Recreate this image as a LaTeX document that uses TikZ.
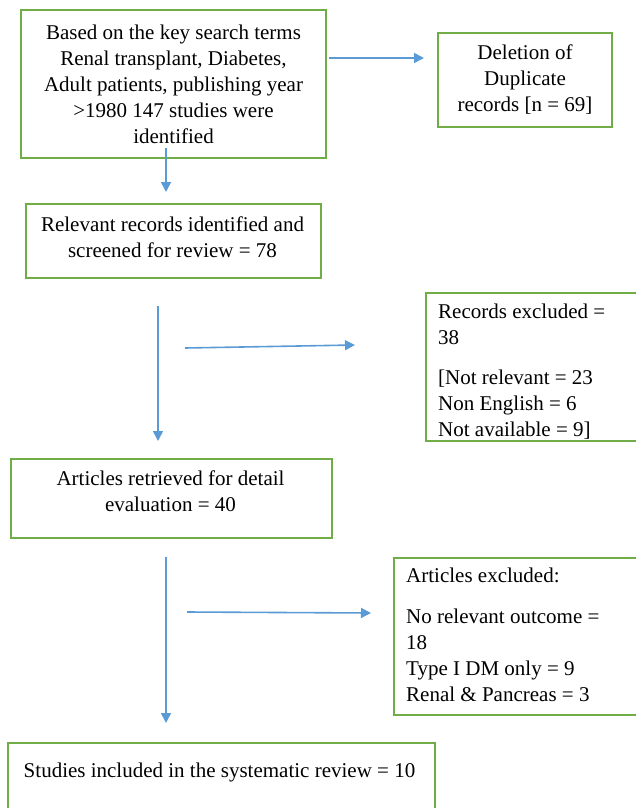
\documentclass[tikz,border=0pt]{standalone}
\usepackage{fontspec}
\setmainfont{Liberation Serif}
\usetikzlibrary{arrows.meta}
\definecolor{boxgreen}{RGB}{112,173,71}
\definecolor{arrowblue}{RGB}{91,155,213}
\begin{document}
\begin{tikzpicture}[x=1pt,y=-1pt,
  box/.style={draw=boxgreen,line width=2pt,inner sep=0pt,anchor=north west,
    align=center,font=\fontsize{21}{26}\selectfont},
  txt/.style={inner sep=0pt,font=\fontsize{21}{26}\selectfont},
  arr/.style={draw=arrowblue,line width=1.6pt,-{Triangle[length=10pt,width=10pt]}}]
\useasboundingbox (0,0) rectangle (636,808);
\clip (0,0) rectangle (636,808);
% boxes
\node[box,minimum width=305,minimum height=148] (b1) at (20,9)
  {Based on the key search terms\\Renal transplant, Diabetes,\\Adult patients, publishing year\\>1980 147 studies were\\identified};
\node[box,minimum width=174,minimum height=94] (b2) at (437,32)
  {Deletion of\\Duplicate\\records [n = 69]};
\node[box,minimum width=295,minimum height=74] (b3) at (25,203) {};
\node[txt,align=center] (t3) at (172.5,237.5)
  {Relevant records identified and\\screened for review = 78};
\node[box,minimum width=230,minimum height=148] (b4) at (425,292) {};
\node[txt,align=left,anchor=west] (t4) at (438,372)
  {Records excluded =\\38\\[14pt][Not relevant = 23\\Non English = 6\\Not available = 9]};
\node[box,minimum width=321,minimum height=79] (b5) at (10,458) {};
\node[txt,align=center] (t5) at (170.5,491.5)
  {Articles retrieved for detail\\evaluation = 40};
\node[box,minimum width=260,minimum height=157] (b6) at (393,557) {};
\node[txt,align=left,anchor=west] (t6) at (406,635)
  {Articles excluded:\\[15pt]No relevant outcome =\\18\\Type I DM only = 9\\Renal \& Pancreas = 3};
\node[box,minimum width=427,minimum height=80] (b7) at (7,742) {};
\node[txt,anchor=center] (t7) at (219.5,772)
  {Studies included in the systematic review = 10};
% arrow ends
\coordinate (a1s) at (329,58);  \coordinate (a1e) at (424,58);
\coordinate (a2s) at (166,148); \coordinate (a2e) at (166,192);
\coordinate (a3s) at (158,306); \coordinate (a3e) at (158,441);
\coordinate (a4s) at (185,348); \coordinate (a4e) at (355,345);
\coordinate (a5s) at (166,557); \coordinate (a5e) at (166,723);
\coordinate (a6s) at (187,612); \coordinate (a6e) at (371,613);
\draw[arr] (a1s) -- (a1e);
\draw[arr] (a2s) -- (a2e);
\draw[arr] (a3s) -- (a3e);
\draw[arr] (a4s) -- (a4e);
\draw[arr] (a5s) -- (a5e);
\draw[arr] (a6s) -- (a6e);
\end{tikzpicture}
\end{document}
